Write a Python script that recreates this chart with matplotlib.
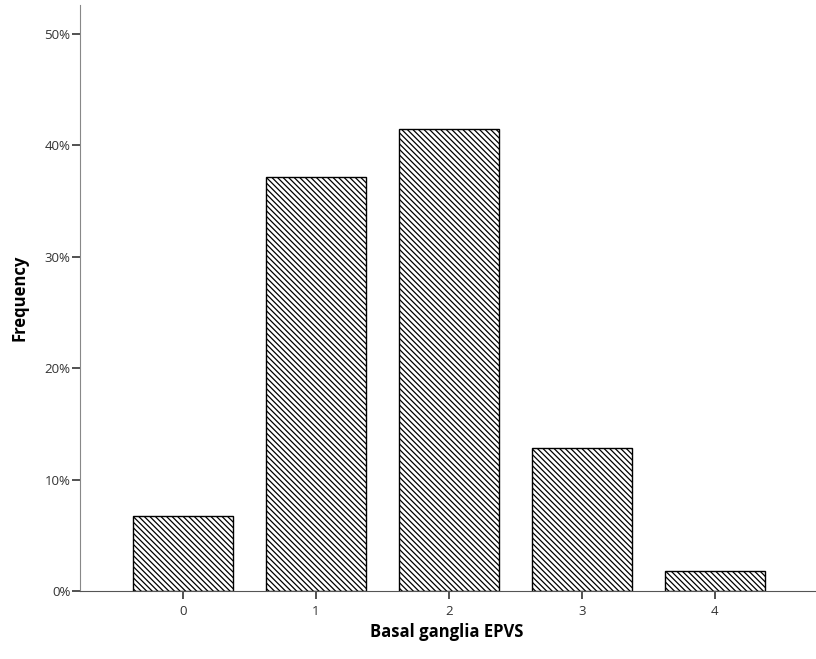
import matplotlib
matplotlib.use("Agg")
import matplotlib.pyplot as plt

categories = ["0", "1", "2", "3", "4"]
values = [6.7, 37.2, 41.5, 12.8, 1.8]
yticks = [0, 10, 20, 30, 40, 50]
ytick_labels = ["0%", "10%", "20%", "30%", "40%", "50%"]

plt.rcParams['hatch.linewidth'] = 0.9
plt.rcParams['font.family'] = ['Open Sans', 'DejaVu Sans']

fig = plt.figure(figsize=(8.16, 6.59), dpi=100)
ax = fig.add_axes([80/816, 1-591/659, 1-80/816, (591-5)/659])

x = list(range(len(categories)))
ax.bar(x, values, width=0.75, color='white', edgecolor='black', linewidth=1.0,
       hatch='\\\\\\\\\\\\', zorder=2)

ax.set_xlim(-0.774, 4.76)
ax.set_ylim(0, 52.6)
ax.set_xticks(x)
ax.set_xticklabels(categories)
ax.set_yticks(yticks)
ax.set_yticklabels(ytick_labels)

for s in ['top', 'right']:
    ax.spines[s].set_visible(False)
ax.spines['left'].set_color('#888888')
ax.spines['bottom'].set_color('#555555')
ax.tick_params(axis='y', length=6, width=1.2, color='#333333', labelsize=9.5, labelcolor='#333333', pad=1)
ax.tick_params(axis='x', length=6, width=1.2, color='#333333', labelsize=9.5, labelcolor='#333333', pad=4)

ax.set_xlabel("Basal ganglia EPVS", fontsize=12, fontweight='bold')
ax.set_ylabel("Frequency", fontsize=12, fontweight='bold')
ax.xaxis.set_label_coords((447-80)/736, (591-632)/586)
ax.yaxis.set_label_coords((20-80)/736, 0.5)
ax.xaxis.label.set_va('center')
ax.yaxis.label.set_va('center')

fig.savefig("out.png", dpi=100)
